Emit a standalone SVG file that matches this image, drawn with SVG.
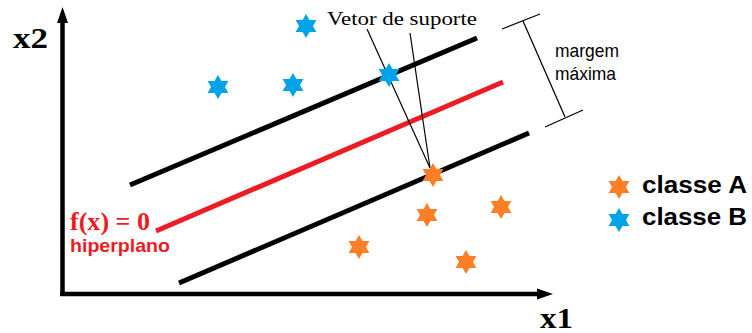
<svg xmlns="http://www.w3.org/2000/svg" width="752" height="333" viewBox="0 0 752 333">
<style>
.ax{stroke:#000;stroke-width:4.5;fill:none}
.sv{stroke:#000;stroke-width:5;stroke-linecap:butt;fill:none}
.hp{stroke:#ed1c24;stroke-width:5;fill:none}
.thin{stroke:#000;stroke-width:1.2;fill:none}
.a{fill:#ff7f27}
.b{fill:#00a2e8}
.serif{font-family:"Liberation Serif","Times New Roman",serif;font-weight:bold}
.sans{font-family:"Liberation Sans",Arial,sans-serif}
</style>
<defs>
<path id="star" d="M0,-12 L3.5,-6.06 L10.39,-6 L7,0 L10.39,6 L3.5,6.06 L0,12 L-3.5,6.06 L-10.39,6 L-7,0 L-10.39,-6 L-3.5,-6.06 Z"/>
</defs>
<rect width="752" height="333" fill="#fff"/>
<g id="axes">
<path class="ax" d="M62.5,296 V21 M60,294 H538"/>
<path d="M62.5,7 L68,23 L57,23 Z" fill="#000"/>
<path d="M553,294 L537,288.5 L537,299.5 Z" fill="#000"/>
<text class="serif" x="13" y="48" font-size="29" textLength="35" lengthAdjust="spacingAndGlyphs">x2</text>
<text class="serif" x="540" y="328" font-size="29" textLength="33" lengthAdjust="spacingAndGlyphs">x1</text>
</g>
<g id="lines">
<line class="sv" x1="130" y1="185" x2="477" y2="38"/>
<line class="hp" x1="156" y1="231" x2="503" y2="82"/>
<line class="sv" x1="179" y1="283" x2="529" y2="133"/>
</g>
<g id="connectors">
<line class="thin" x1="367" y1="29" x2="430" y2="168"/>
<line class="thin" x1="410" y1="33" x2="430" y2="168"/>
<line class="thin" x1="523" y1="21" x2="565" y2="117"/>
<line class="thin" x1="502" y1="29" x2="540" y2="14"/>
<line class="thin" x1="545" y1="127" x2="583" y2="110"/>
</g>
<g id="classB">
<use href="#star" class="b" x="306" y="26"/>
<use href="#star" class="b" x="218" y="87"/>
<use href="#star" class="b" x="293" y="85"/>
<use href="#star" class="b" x="389" y="75"/>
</g>
<g id="classA">
<use href="#star" class="a" x="433" y="175"/>
<use href="#star" class="a" x="427" y="215"/>
<use href="#star" class="a" x="501" y="207"/>
<use href="#star" class="a" x="359" y="247"/>
<use href="#star" class="a" x="466" y="262"/>
</g>
<g id="label-vetor">
<text x="327" y="25" font-family="Liberation Serif,Times New Roman,serif" font-size="19" textLength="150" lengthAdjust="spacingAndGlyphs">Vetor de suporte</text>
</g>
<g id="label-margem">
<text class="sans" x="555" y="57" font-size="19" textLength="64" lengthAdjust="spacingAndGlyphs">margem</text>
<text class="sans" x="555" y="80" font-size="19" textLength="61" lengthAdjust="spacingAndGlyphs">máxima</text>
</g>
<g id="label-hiperplano" fill="#ed1c24">
<text class="serif" x="70" y="230" font-size="25" textLength="80" lengthAdjust="spacingAndGlyphs">f(x) = 0</text>
<text class="sans" x="70" y="252" font-size="18.5" font-weight="bold" textLength="100" lengthAdjust="spacingAndGlyphs">hiperplano</text>
</g>
<g id="legend">
<use href="#star" class="a" x="619" y="187"/>
<use href="#star" class="b" x="619" y="220"/>
<text class="sans" x="642" y="193" font-size="23" font-weight="bold" textLength="105" lengthAdjust="spacingAndGlyphs">classe A</text>
<text class="sans" x="642" y="225" font-size="23" font-weight="bold" textLength="105" lengthAdjust="spacingAndGlyphs">classe B</text>
</g>
</svg>
